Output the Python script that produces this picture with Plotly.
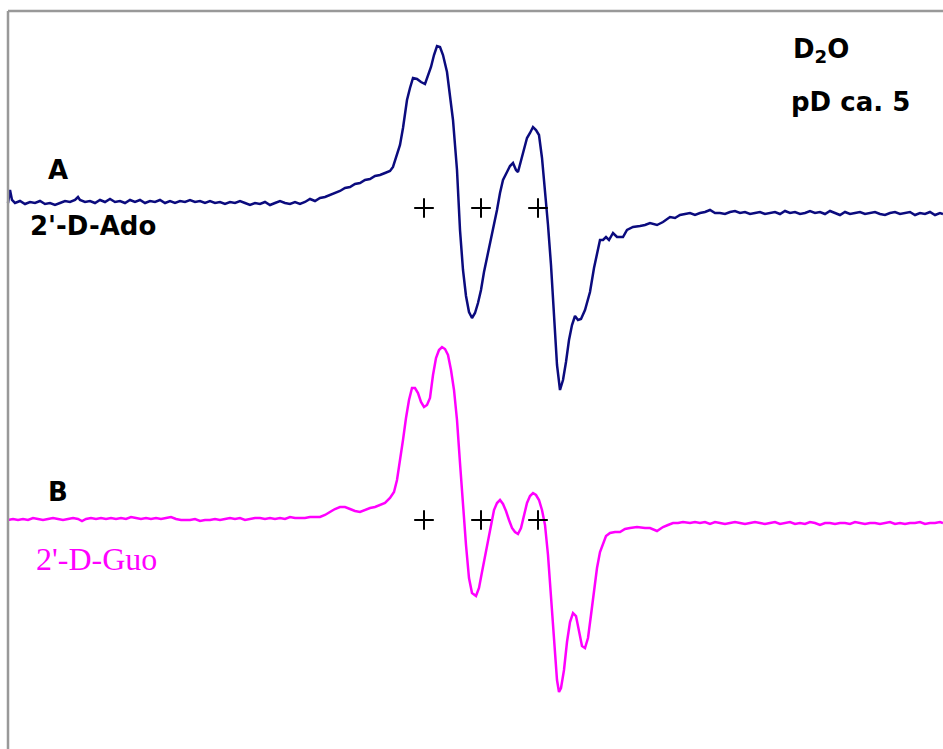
import plotly.graph_objects as go

# Trace A (2'-D-Ado), digitized (x position, signal in screen units)
ado_x = [8,10,12,15,20,25,30,35,40,45,50,55,60,65,70,75,78,80,85,90,95,100,105,110,115,120,125,130,135,140,145,150,155,160,165,170,175,180,185,190,195,200,205,210,215,220,225,230,235,240,245,250,255,260,265,270,275,280,285,290,295,300,305,310,315,320,325,330,335,340,345,350,355,360,365,370,375,380,385,390,393,396,400,403,407,410,413,417,421,425,428,431,434,437,440,443,447,450,453,455,457,460,463,466,469,472,475,478,481,484,487,490,494,497,500,503,507,510,513,516,518,521,524,527,530,533,536,539,542,545,548,551,554,557,560,563,566,569,572,575,578,581,585,590,594,597,600,603,606,609,613,617,623,627,633,640,645,650,657,663,670,675,680,685,690,695,700,705,710,715,720,725,730,735,740,745,750,755,760,765,770,775,780,785,790,795,800,805,810,815,820,825,830,835,840,845,850,855,860,865,870,875,880,885,890,895,900,905,910,915,920,925,930,935,940,943]
ado_y = [203,190,200,203,201,204,202,203,201,204,203,205,203,201,202,200,197,200,202,201,203,200,202,199,202,201,203,200,202,200,203,201,202,200,203,201,203,201,202,200,202,201,203,201,203,202,204,202,203,201,203,205,203,204,202,205,203,201,203,204,202,204,202,199,201,198,197,195,193,191,188,187,184,183,180,179,176,175,173,171,167,158,145,128,100,88,78,79,82,84,76,67,55,46,47,55,72,95,120,145,170,230,270,296,312,318,313,303,290,272,258,243,227,210,193,180,172,166,163,170,172,160,148,138,133,127,130,135,158,190,225,265,318,365,390,380,362,340,325,316,320,319,310,292,268,252,240,240,237,240,233,237,237,230,227,226,225,223,225,222,217,218,215,214,213,215,213,212,210,213,213,214,212,211,213,212,214,213,212,214,213,212,214,211,213,212,214,213,211,213,212,214,211,213,215,212,214,213,212,214,213,212,214,215,213,212,214,213,212,215,213,214,212,215,213,214]

# Trace B (2'-D-Guo)
guo_x = [8,13,18,23,28,33,38,43,48,53,58,63,68,73,78,82,86,91,96,101,106,111,116,121,126,131,136,141,146,151,156,161,166,171,176,181,186,190,195,200,205,210,215,220,225,230,235,240,245,250,255,260,265,270,275,280,285,290,295,300,305,310,315,320,325,330,335,340,345,350,355,360,365,370,375,380,385,390,394,397,400,403,406,409,412,415,418,421,424,427,430,433,436,439,442,445,448,451,454,457,460,463,466,469,472,476,479,482,485,488,491,494,497,500,503,506,509,512,515,518,521,524,527,530,533,536,539,542,545,548,551,554,557,559,561,564,567,570,573,576,579,582,585,588,591,594,597,600,603,606,610,615,620,625,630,637,645,650,657,663,668,673,678,683,690,695,700,705,710,715,720,725,730,735,740,745,750,755,760,765,770,775,780,785,790,795,800,805,810,815,820,825,830,835,840,845,850,855,860,865,870,875,880,885,890,895,900,905,910,915,920,925,930,935,940,943]
guo_y = [520,519,520,519,520,518,519,520,519,518,519,520,519,518,519,521,519,518,519,518,519,518,519,518,519,517,518,519,518,519,518,519,518,517,519,520,520,520,519,521,520,520,519,520,519,518,519,518,520,519,518,518,519,518,519,518,519,517,518,518,518,517,517,517,515,512,509,507,507,509,511,512,510,508,507,505,503,498,492,480,462,440,418,400,388,388,393,402,407,405,398,375,358,350,347,349,355,370,390,420,463,505,545,578,593,596,588,572,556,540,522,510,503,500,504,511,520,528,532,534,528,514,503,496,493,495,500,510,525,555,595,640,680,692,688,670,642,622,613,616,630,646,648,638,615,590,568,552,543,536,533,532,532,529,528,527,528,528,531,527,525,523,523,522,523,522,523,522,524,522,523,524,523,522,523,524,523,522,523,524,523,522,524,523,522,524,523,524,522,523,525,523,523,524,523,523,524,522,523,524,523,523,524,523,522,524,523,524,523,523,522,524,523,523,522,523]

# Hyperfine markers
cross_x = [424, 481, 538]
cross_y_a = 208
cross_y_b = 520

fig = go.Figure()
fig.add_trace(go.Scatter(x=ado_x, y=ado_y, mode="lines",
                         line=dict(color="#0b0b7e", width=2.5), hoverinfo="skip"))
fig.add_trace(go.Scatter(x=guo_x, y=guo_y, mode="lines",
                         line=dict(color="#ff00ff", width=2.5), hoverinfo="skip"))
for cy in (cross_y_a, cross_y_b):
    fig.add_trace(go.Scatter(x=cross_x, y=[cy] * len(cross_x), mode="markers",
                             marker=dict(symbol="cross-thin", size=14,
                                         line=dict(color="black", width=2)),
                             hoverinfo="skip"))

# frame lines (left & top)
fig.add_shape(type="line", x0=8, x1=8, y0=11, y1=749, line=dict(color="#999999", width=2.5))
fig.add_shape(type="line", x0=8, x1=943, y0=11, y1=11, line=dict(color="#999999", width=2.5))

bold = dict(family="DejaVu Sans", size=26, color="black")
fig.add_annotation(x=58, y=170, text="<b>A</b>", showarrow=False, font=bold)
fig.add_annotation(x=93, y=226, text="<b>2'-D-Ado</b>", showarrow=False, font=bold)
fig.add_annotation(x=58, y=492, text="<b>B</b>", showarrow=False, font=bold)
fig.add_annotation(x=96, y=559, text="2'-D-Guo", showarrow=False,
                   font=dict(family="Liberation Serif", size=32, color="#ff00ff"))
fig.add_annotation(x=821, y=50, text="<b>D<sub>2</sub>O</b>", showarrow=False, font=bold)
fig.add_annotation(x=850, y=102, text="<b>pD ca. 5</b>", showarrow=False, font=bold)

fig.update_layout(
    width=943, height=749,
    margin=dict(l=0, r=0, t=0, b=0),
    paper_bgcolor="white", plot_bgcolor="white",
    showlegend=False,
    xaxis=dict(range=[0, 943], visible=False, fixedrange=True),
    yaxis=dict(range=[749, 0], visible=False, fixedrange=True),
)
fig.write_html("out.html", config={"displayModeBar": False})
